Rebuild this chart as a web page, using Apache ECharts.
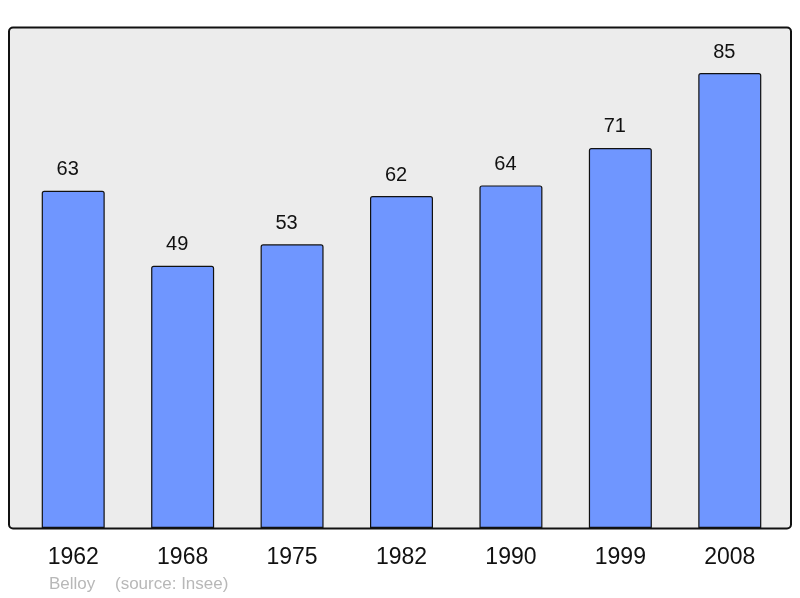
<!DOCTYPE html>
<html>
<head>
<meta charset="utf-8">
<script src="https://cdn.jsdelivr.net/npm/echarts@6/dist/echarts.min.js"></script>
<style>html,body{margin:0;padding:0;background:#fff}#c{width:800px;height:598px}</style>
</head>
<body>
<div id="c"></div>
<script>
var years = ['1962','1968','1975','1982','1990','1999','2008'];
var population = [63, 49, 53, 62, 64, 71, 85];
var yMax = 93.5;

var chart = echarts.init(document.getElementById('c'), null, {renderer: 'canvas'});
chart.setOption({
  animation: false,
  backgroundColor: '#ffffff',
  textStyle: {fontFamily: 'Liberation Sans, Arial, sans-serif'},
  grid: {left: 18.5, right: 15.5, top: 27.5, bottom: 70, containLabel: false},
  graphic: [
    {type: 'rect', z: -10, silent: true,
     shape: {x: 9, y: 27.5, width: 782, height: 501, r: 4},
     style: {fill: '#ececec', stroke: '#111111', lineWidth: 2}},
    {type: 'text', left: 49, top: 576,
     style: {text: 'Belloy', fill: '#b8b8b8', font: '17px "Liberation Sans", Arial, sans-serif'}},
    {type: 'text', left: 115, top: 576,
     style: {text: '(source: Insee)', fill: '#b8b8b8', font: '17px "Liberation Sans", Arial, sans-serif'}}
  ],
  xAxis: {
    type: 'category', data: years,
    axisLine: {show: false}, axisTick: {show: false},
    axisLabel: {color: '#111', fontSize: 23, margin: 18, fontFamily: 'Liberation Sans, Arial, sans-serif'}
  },
  yAxis: {
    type: 'value', min: 0, max: yMax, show: false, splitLine: {show: false}
  },
  series: [{
    type: 'bar', data: population, barWidth: 63,
    itemStyle: {color: '#6f96ff', borderColor: '#111', borderWidth: 1.2, borderRadius: [2,2,0,0]},
    label: {show: true, position: 'top', distance: 11, offset: [-5.5, 0], color: '#111', fontSize: 20,
            fontFamily: 'Liberation Sans, Arial, sans-serif'}
  }]
});
</script>
</body>
</html>
